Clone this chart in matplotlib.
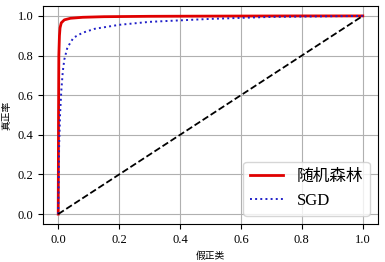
import matplotlib
matplotlib.use("Agg")
import matplotlib.pyplot as plt

plt.rcParams['font.family'] = ['Liberation Serif', 'Noto Sans CJK SC']
plt.rcParams['axes.unicode_minus'] = False

fpr_forest = [0, 0.001, 0.002, 0.004, 0.006, 0.01, 0.02, 0.04, 0.08, 0.15, 0.3, 0.5, 0.8, 1.0]
tpr_forest = [0, 0.5, 0.8, 0.9, 0.94, 0.965, 0.98, 0.988, 0.993, 0.996, 0.998, 0.999, 1.0, 1.0]
fpr_sgd = [0, 0.003, 0.006, 0.01, 0.015, 0.02, 0.03, 0.05, 0.08, 0.12, 0.2, 0.3, 0.5, 0.7, 1.0]
tpr_sgd = [0, 0.35, 0.5, 0.62, 0.72, 0.78, 0.84, 0.89, 0.915, 0.935, 0.955, 0.97, 0.985, 0.995, 1.0]
diag = [0, 1]

fig = plt.figure(figsize=(3.85, 2.62), dpi=100)
ax = fig.add_axes([43/385, 1-224/262, 335/385, 218/262])
ax.plot(fpr_forest, tpr_forest, color='#e00000', linewidth=2, label='随机森林')
ax.plot(fpr_sgd, tpr_sgd, color='#2020c8', linestyle=':', linewidth=1.4, label='SGD')
ax.plot(diag, diag, 'k--', linewidth=1.3)
ax.set_xlim(-0.05, 1.05)
ax.set_ylim(-0.05, 1.05)
ax.set_xticks([0, 0.2, 0.4, 0.6, 0.8, 1.0])
ax.set_yticks([0, 0.2, 0.4, 0.6, 0.8, 1.0])
ax.tick_params(labelsize=9)
ax.grid(True, color='#b0b0b0')
ax.set_xlabel('假正类', fontsize=7)
ax.set_ylabel('真正率', fontsize=7)
ax.legend(loc='lower right', fontsize=12)
fig.savefig('out.png', dpi=100)
